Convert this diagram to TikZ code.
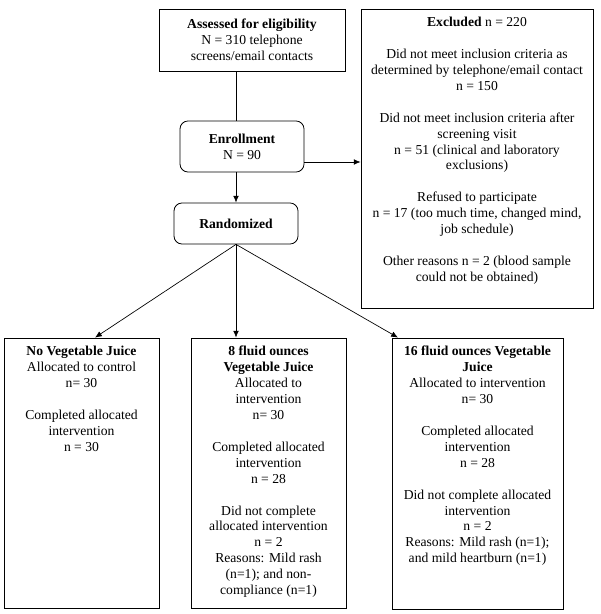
\documentclass[tikz,border=0pt]{standalone}
\usepackage{fontspec}
\setmainfont{Liberation Serif}
\usetikzlibrary{arrows.meta}
\begin{document}
\begin{tikzpicture}[x=0.88pt,y=-0.88pt,
  box/.style={draw, line width=0.7pt, inner sep=0pt, align=center, font=\fontsize{12}{14}\selectfont},
  rbox/.style={box, rounded corners=7pt},
  txt/.style={align=center, inner sep=0pt, font=\fontsize{12}{14}\selectfont},
  arr/.style={line width=0.6pt, -{Latex[length=6pt,width=5pt]}},
  ln/.style={line width=0.6pt}]
\useasboundingbox (0,0) rectangle (600,614);

% top boxes
\node[box, minimum width={186*0.88pt}, minimum height={62*0.88pt}] (assess) at (252,40)
  {\textbf{Assessed for eligibility}\\ N = 310 telephone\\ screens/email contacts};
\node[rbox, minimum width={124*0.88pt}, minimum height={51*0.88pt}] (enroll) at (242,146.5)
  {\textbf{Enrollment}\\ N = 90};
\node[rbox, minimum width={124*0.88pt}, minimum height={41*0.88pt}] (rand) at (236,223.5)
  {\textbf{Randomized}};
\node[box, minimum width={232*0.88pt}, minimum height={299*0.88pt}] (excl) at (477,158.5) {};
\node[txt, anchor=north] (exclT) at ([yshift=-7.5pt]excl.north)
  {\textbf{Excluded} n = 220\\[14pt]
   Did not meet inclusion criteria as\\ determined by telephone/email contact\\ n = 150\\[14pt]
   Did not meet inclusion criteria after\\ screening visit\\ n = 51 (clinical and laboratory\\ exclusions)\\[14pt]
   Refused to participate\\ n = 17 (too much time, changed mind,\\ job schedule)\\[14pt]
   Other reasons n = 2 (blood sample\\ could not be obtained)};

% bottom boxes
\node[box, minimum width={155*0.88pt}, minimum height={270*0.88pt}] (left) at (81.5,473) {};
\node[txt, anchor=north] (leftT) at ([yshift=-7.5pt]left.north)
  {\textbf{No Vegetable Juice}\\ Allocated to control\\ n= 30\\[14pt]
   Completed allocated\\ intervention\\ n = 30};
\node[box, minimum width={155*0.88pt}, minimum height={270*0.88pt}] (mid) at (268.5,473) {};
\node[txt, anchor=north] (midT) at ([yshift=-7.5pt]mid.north)
  {\textbf{8 fluid ounces}\\ \textbf{Vegetable Juice}\\ Allocated to\\ intervention\\ n= 30\\[14pt]
   Completed allocated\\ intervention\\ n = 28\\[14pt]
   Did not complete\\ allocated intervention\\ n = 2\\ Reasons: Mild rash\\ (n=1); and non-\\ compliance (n=1)};
\node[box, minimum width={171*0.88pt}, minimum height={271*0.88pt}] (right) at (477.5,473.5) {};
\node[txt, anchor=north] (rightT) at ([yshift=-7.5pt]right.north)
  {\textbf{16 fluid ounces Vegetable}\\ \textbf{Juice}\\ Allocated to intervention\\ n= 30\\[14pt]
   Completed allocated\\ intervention\\ n = 28\\[14pt]
   Did not complete allocated\\ intervention\\ n = 2\\ Reasons: Mild rash (n=1);\\ and mild heartburn (n=1)};

% helper coordinates
\coordinate (ey) at (0,162);
\coordinate (tL) at (95,0);
\coordinate (tR) at (398,0);

% connectors
\draw[ln] (assess.south -| rand.north) -- (enroll.north -| rand.north);
\draw[arr] (enroll.south -| rand.north) -- (rand.north);
\draw[arr] (enroll.east |- ey) -- (excl.west |- ey);
\draw[arr] (rand.south) -- (left.north -| tL);
\draw[arr] (rand.south) -- (mid.north -| rand.south);
\draw[arr] (rand.south) -- (right.north -| tR);
\end{tikzpicture}
\end{document}
